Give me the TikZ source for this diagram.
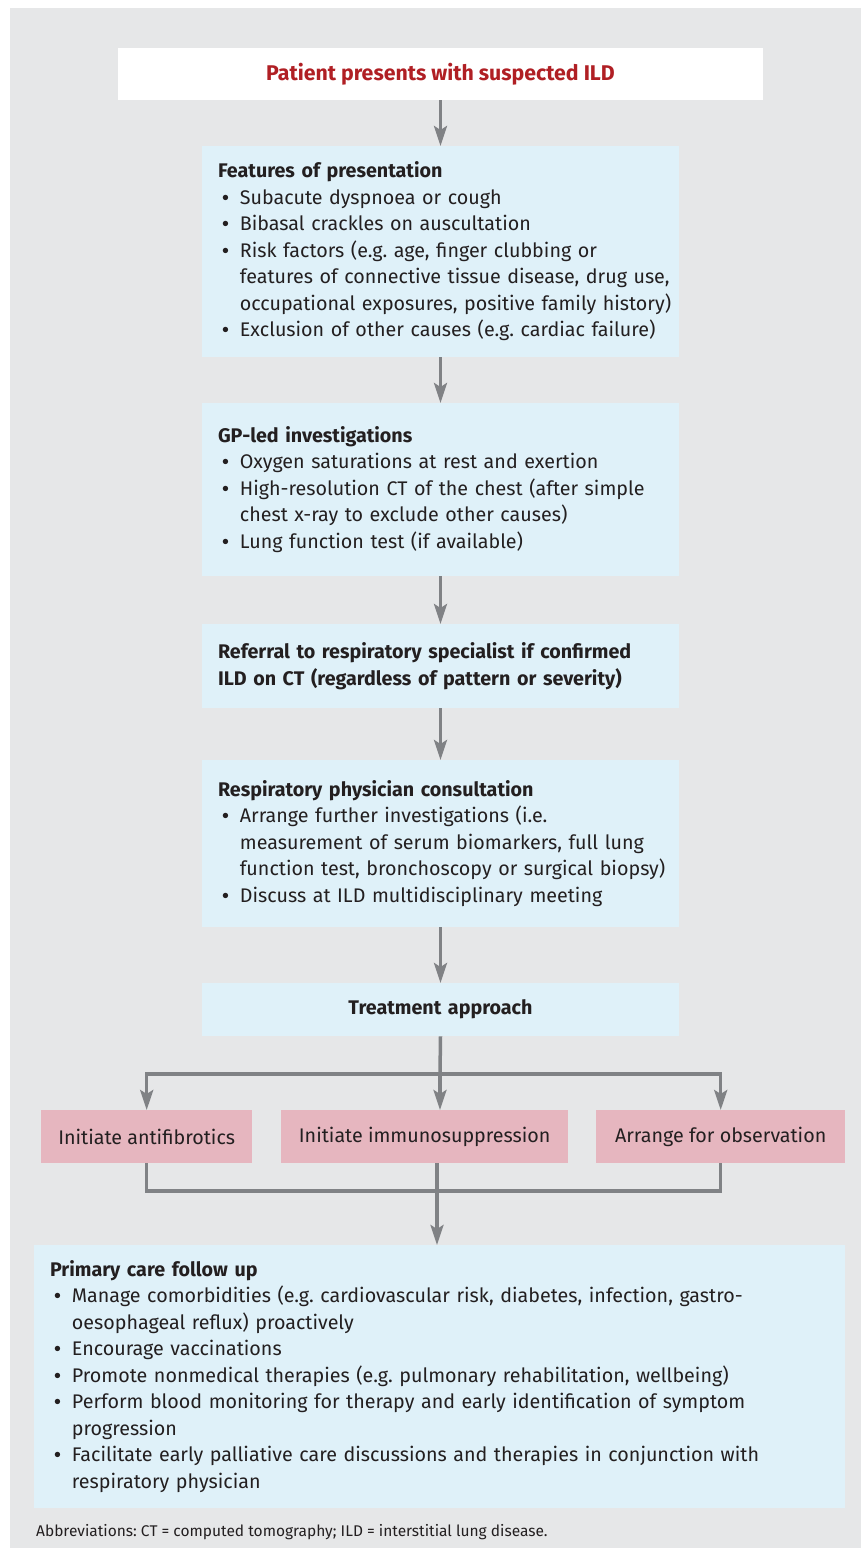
\documentclass[tikz,border=0pt]{standalone}
\usepackage{fontspec}
\setmainfont{Fira Sans}
\newfontfamily\bulfont{Liberation Sans}
\usetikzlibrary{arrows.meta}

\definecolor{bggray}{HTML}{E6E7E8}
\definecolor{boxblue}{HTML}{DFF1F9}
\definecolor{boxpink}{HTML}{E6B6BF}
\definecolor{arrgray}{HTML}{808285}
\definecolor{titlered}{HTML}{B01F24}
\definecolor{txtdark}{HTML}{231F20}

\frenchspacing
\newcommand{\bodyfont}{\fontsize{19.7}{26.5}\selectfont}
\newcommand{\boxhead}[1]{\multicolumn{2}{@{}l@{}}{\bfseries #1}}
\newcommand{\bul}{{\bulfont •}}
\newenvironment{bulletrows}{\begin{tabular}{@{\hspace{4pt}}l@{\hspace{11pt}}l@{}}}{\end{tabular}}

\tikzset{
  stage/.style={fill=boxblue, text=txtdark, font=\bodyfont, text width=445pt,
    inner xsep=16pt, inner ysep=0pt, align=left, anchor=north},
  option/.style={fill=boxpink, text=txtdark, font=\bodyfont, minimum height=53pt,
    inner sep=0pt, anchor=north west},
  flow/.style={draw=arrgray, line width=3.5pt},
  flowarrow/.style={flow, -{Stealth[length=20pt,width=13pt,inset=4pt]}}
}

\begin{document}
\begin{tikzpicture}[x=1pt,y=-1pt]
  \useasboundingbox (0,0) rectangle (861,1551);
  \fill[bggray] (10,8) rectangle (861,1548);

  \node [fill=white, minimum width=645pt, minimum height=52pt, text=titlered,
    font=\bfseries\fontsize{21.3}{24}\selectfont] (title) at (440.5,74)
    {Patient presents with suspected ILD};

  \node [stage, minimum height=211pt] (feat) at (440.5,146) {%
    \begin{bulletrows}
      \boxhead{Features of presentation}\\
      \bul & Subacute dyspnoea or cough\\
      \bul & Bibasal crackles on auscultation\\
      \bul & Risk factors (e.g. age, finger clubbing or\\
           & features of connective tissue disease, drug use,\\
           & occupational exposures, positive family history)\\
      \bul & Exclusion of other causes (e.g. cardiac failure)
    \end{bulletrows}};

  \node [stage, minimum height=173pt] (gp) at (440.5,403) {%
    \begin{bulletrows}
      \boxhead{GP-led investigations}\\
      \bul & Oxygen saturations at rest and exertion\\
      \bul & High-resolution CT of the chest (after simple\\
           & chest x-ray to exclude other causes)\\
      \bul & Lung function test (if available)
    \end{bulletrows}};

  \node [stage, minimum height=84pt, font=\bodyfont\bfseries] (refer) at (440.5,624)
    {Referral to respiratory specialist if confirmed\\
     ILD on CT (regardless of pattern or severity)};

  \node [stage, minimum height=167pt] (resp) at (440.5,760) {%
    \begin{bulletrows}
      \boxhead{Respiratory physician consultation}\\
      \bul & Arrange further investigations (i.e.\\
           & measurement of serum biomarkers, full lung\\
           & function test, bronchoscopy or surgical biopsy)\\
      \bul & Discuss at ILD multidisciplinary meeting
    \end{bulletrows}};

  \node [stage, minimum height=53pt, align=center, font=\bodyfont\bfseries] (treat)
    at (440.5,983) {Treatment approach};

  \node [option, minimum width=211pt] (anti) at (41,1110) {Initiate antifibrotics};
  \node [option, minimum width=287pt] (immuno) at (281,1110) {Initiate immunosuppression};
  \node [option, minimum width=249pt] (obs) at (596,1110) {Arrange for observation};

  \node [stage, text width=779pt, minimum height=263pt] (follow) at (439.5,1245) {%
    \begin{bulletrows}
      \boxhead{Primary care follow up}\\
      \bul & Manage comorbidities (e.g. cardiovascular risk, diabetes, infection, gastro-\\
           & oesophageal reflux) proactively\\
      \bul & Encourage vaccinations\\
      \bul & Promote nonmedical therapies (e.g. pulmonary rehabilitation, wellbeing)\\
      \bul & Perform blood monitoring for therapy and early identification of symptom\\
           & progression\\
      \bul & Facilitate early palliative care discussions and therapies in conjunction with\\
           & respiratory physician
    \end{bulletrows}};

  \node [anchor=base west, text=txtdark, inner sep=0pt,
    font=\fontsize{15.5}{18}\selectfont] (abbrev) at (36,1536)
    {Abbreviations: CT = computed tomography; ILD = interstitial lung disease.};

  % main column
  \draw[flowarrow] (title.south) -- (feat.north);
  \draw[flowarrow] (feat.south) -- (gp.north);
  \draw[flowarrow] (gp.south) -- (refer.north);
  \draw[flowarrow] (refer.south) -- (resp.north);
  \draw[flowarrow] (resp.south) -- (treat.north);

  % branching to the three options
  \coordinate (split) at (440,1074);
  \draw[flow] (treat.south) -- (split);
  \draw[flowarrow] (split) -| (anti.north);
  \draw[flowarrow] (split) -| (obs.north);
  \draw[flowarrow] (split) -- (split |- immuno.north);

  % joining again
  \coordinate (merge) at (437,1191);
  \draw[flow] (anti.south) |- (merge) -| (obs.south);
  \draw[flow] (merge |- immuno.south) -- (merge);
  \draw[flowarrow] (merge) -- (merge |- follow.north);
\end{tikzpicture}
\end{document}
